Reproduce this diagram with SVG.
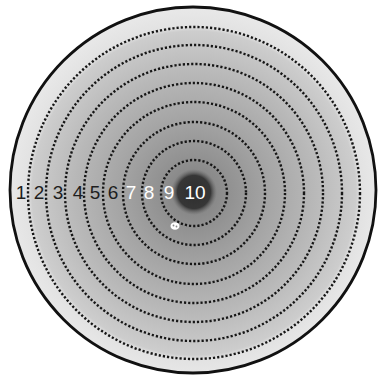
<svg xmlns="http://www.w3.org/2000/svg" width="379" height="382" viewBox="0 0 379 382">
  <defs>
    <radialGradient id="face" cx="194" cy="193" r="184" gradientUnits="userSpaceOnUse">
      <stop offset="0" stop-color="#7c7c7c"/>
      <stop offset="0.2" stop-color="#929292"/>
      <stop offset="0.4" stop-color="#a4a4a4"/>
      <stop offset="0.65" stop-color="#b8b8b8"/>
      <stop offset="0.88" stop-color="#cdcdcd"/>
      <stop offset="0.905" stop-color="#e2e2e2"/>
      <stop offset="1" stop-color="#e8e8e8"/>
    </radialGradient>
    <radialGradient id="bull" cx="194" cy="192" r="23" gradientUnits="userSpaceOnUse">
      <stop offset="0" stop-color="#2e2e2e"/>
      <stop offset="0.72" stop-color="#363636"/>
      <stop offset="1" stop-color="#6a6a6a" stop-opacity="0"/>
    </radialGradient>
    <style>
      .ring { fill: none; stroke: #161616; stroke-width: 2.4; stroke-dasharray: 2.2 2; }
      .lbl { font-family: "Liberation Sans", Arial, sans-serif; font-size: 19px; text-anchor: middle; }
      .dark { fill: #1e1e1e; }
      .light { fill: #ffffff; }
    </style>
  </defs>
  <rect width="379" height="382" fill="#ffffff"/>
  <g id="target-face">
    <circle cx="193" cy="190" r="184" fill="url(#face)"/>
    <circle cx="194" cy="192" r="23" fill="url(#bull)"/>
  </g>
  <g id="rings">
    <circle class="ring" cx="194" cy="193" r="166"/>
    <circle class="ring" cx="194" cy="193" r="148"/>
    <circle class="ring" cx="194" cy="193" r="129"/>
    <circle class="ring" cx="194" cy="193" r="110"/>
    <circle class="ring" cx="194" cy="193" r="91"/>
    <circle class="ring" cx="194" cy="193" r="71"/>
    <circle class="ring" cx="194" cy="193" r="52"/>
    <circle class="ring" cx="194" cy="193" r="33"/>
  </g>
  <g id="outline">
    <circle cx="193" cy="190" r="183" fill="none" stroke="#111111" stroke-width="2.8"/>
  </g>
  <g id="labels">
    <text class="lbl dark" x="21" y="199">1</text>
    <text class="lbl dark" x="39" y="199">2</text>
    <text class="lbl dark" x="58" y="199">3</text>
    <text class="lbl dark" x="78" y="199">4</text>
    <text class="lbl dark" x="95" y="199">5</text>
    <text class="lbl dark" x="113" y="199">6</text>
    <text class="lbl light" x="131" y="199">7</text>
    <text class="lbl light" x="149" y="199">8</text>
    <text class="lbl light" x="169" y="199">9</text>
    <text class="lbl light" x="195" y="199">10</text>
  </g>
  <g id="shot-hole">
    <ellipse cx="175" cy="226" rx="4.5" ry="3.8" fill="#ffffff"/>
    <circle cx="173.5" cy="225.5" r="0.9" fill="#888888"/>
    <circle cx="176.5" cy="226.5" r="0.9" fill="#888888"/>
  </g>
</svg>
